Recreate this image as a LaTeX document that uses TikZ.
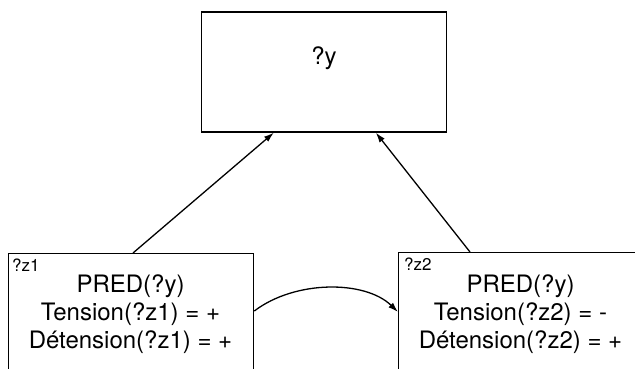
\documentclass[tikz,border=0pt]{standalone}
\usepackage{fontspec}
\setmainfont{TeX Gyre Heros}
\usetikzlibrary{arrows.meta,calc}
\begin{document}
\begin{tikzpicture}[x=1pt,y=-1pt,
  box/.style={draw, line width=1.3pt, rectangle, inner sep=0pt},
  lbl/.style={font=\fontsize{24}{28}\selectfont, anchor=base, inner sep=0pt},
  tag/.style={font=\fontsize{17}{20}\selectfont, anchor=base west, inner sep=0pt},
  arr/.style={line width=1.3pt, -{Latex[length=10pt,width=6.5pt]}}]
\useasboundingbox (0,0) rectangle (635,369);
\clip (0,0) rectangle (635,369);
\node[box, minimum width=245pt, minimum height=120pt] (y) at (324,72) {};
\node[lbl] (ylbl) at (324,65) {?y};
\node[box, anchor=north west, minimum width=245pt, minimum height=140pt] (z1) at (8,253) {};
\node[box, anchor=north west, minimum width=245pt, minimum height=140pt] (z2) at (398,252) {};
\node[tag] (z1tag) at (12,271) {?z1};
\node[tag] (z2tag) at (404,270) {?z2};
\node[lbl] (z1a) at (130.5,292) {PRED(?y)};
\node[lbl] (z1b) at (130.5,320) {Tension(?z1) = +};
\node[lbl] (z1c) at (130.5,348) {Détension(?z1) = +};
\node[lbl] (z2a) at (520.5,292) {PRED(?y)};
\node[lbl] (z2b) at (520.5,320) {Tension(?z2) = -};
\node[lbl] (z2c) at (520.5,348) {Détension(?z2) = +};
\draw[arr] ($(z1.north west)+(125,0)$) -- ($(y.south west)+(73,0)$);
\draw[arr] ($(z2.north west)+(72,0)$) -- ($(y.south west)+(175,0)$);
\draw[arr] ($(z1.north east)+(0,58)$) .. controls (295,280) and (365,280) .. ($(z2.north west)+(0,60)$);
\end{tikzpicture}
\end{document}
